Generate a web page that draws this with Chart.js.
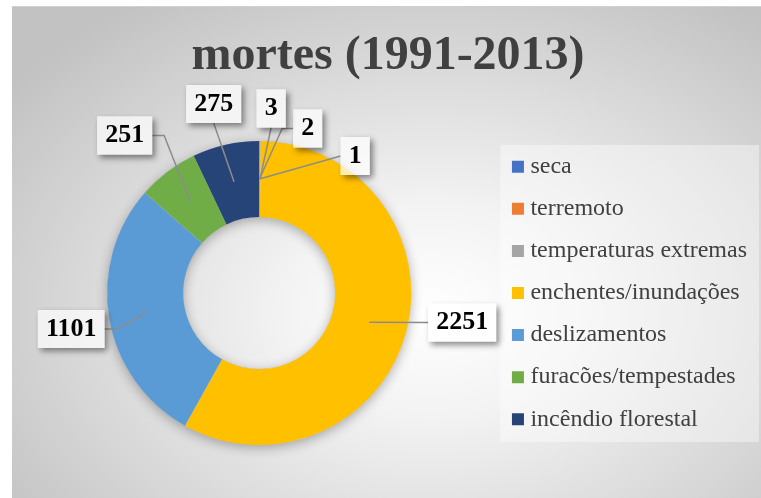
<!DOCTYPE html>
<html><head><meta charset="utf-8">
<script src="https://cdn.jsdelivr.net/npm/chart.js@4"></script>
<style>
html,body{margin:0;padding:0;background:#fff;width:761px;height:498px;overflow:hidden}
#wrap{position:absolute;left:12px;top:6px;width:749px;height:492px;
background:radial-gradient(ellipse 70% 76% at 56% 62%, #ffffff 0%, #f3f3f3 28%, #c2c2c2 100%);
box-shadow:inset 0 1px 0 #d0d0d0}
</style></head><body>
<div id="wrap"><canvas id="c"></canvas></div>
<script>
const chartTitle = 'mortes (1991-2013)';
const categories = ['seca','terremoto','temperaturas extremas','enchentes/inundações','deslizamentos','furacões/tempestades','incêndio florestal'];
const deaths = [1, 2, 3, 2251, 1101, 251, 275];
const sliceColors = ['#4472C4','#ED7D31','#A5A5A5','#FFC000','#5B9BD5','#70AD47','#264478'];

// callout placement relative to the doughnut centre (layout only)
const labelLayout = [
  {dx: 96,    dy: -137,   link: 'left'},
  {dx: 48.5,  dy: -164.5, link: 'left', elbow: 11},
  {dx: 12,    dy: -184.5, link: 'bottom'},
  {dx: 203,   dy: 29.5,   link: 'left'},
  {dx: -188,  dy: 36,     link: 'right', elbow: 13},
  {dx: -134.5,dy: -157.5, link: 'right', elbow: 12},
  {dx: -45.5, dy: -189,   link: 'bottom'}
];

const legendBg = {
  id: 'legendBg',
  beforeDraw(chart) {
    const l = chart.legend, ctx = chart.ctx;
    if (!l) return;
    ctx.save();
    ctx.fillStyle = 'rgba(255,255,255,0.4)';
    ctx.fillRect(l.left + 1, l.top + 39, l.width + 1, 297);
    ctx.restore();
  }
};

const ringShadow = {
  id: 'ringShadow',
  beforeDatasetsDraw(chart) {
    const meta = chart.getDatasetMeta(0);
    if (!meta.data.length) return;
    const p = meta.data[0].getProps(['x','y','innerRadius','outerRadius'], true);
    const ctx = chart.ctx;
    const ring = () => {
      ctx.moveTo(p.x + p.outerRadius, p.y);
      ctx.arc(p.x, p.y, p.outerRadius, 0, Math.PI * 2);
      ctx.closePath();
      ctx.moveTo(p.x + p.innerRadius, p.y);
      ctx.arc(p.x, p.y, p.innerRadius, 0, Math.PI * 2);
      ctx.closePath();
    };
    ctx.save();
    ctx.beginPath();
    ctx.rect(0, 0, chart.width, chart.height);
    ring();
    ctx.clip('evenodd');
    ctx.beginPath();
    ring();
    ctx.shadowColor = 'rgba(0,0,0,0.3)';
    ctx.shadowBlur = 12;
    ctx.shadowOffsetY = 3;
    ctx.fillStyle = '#888';
    ctx.fill('evenodd');
    ctx.restore();
  }
};

const callouts = {
  id: 'callouts',
  afterDatasetsDraw(chart) {
    const ctx = chart.ctx;
    const meta = chart.getDatasetMeta(0);
    const ds = chart.data.datasets[0];
    ctx.save();
    ctx.font = 'bold 26px "Liberation Serif"';
    const boxes = [];
    meta.data.forEach((arc, i) => {
      const p = arc.getProps(['x','y','startAngle','endAngle','innerRadius','outerRadius'], true);
      const mid = (p.startAngle + p.endAngle) / 2;
      const r = (p.innerRadius + p.outerRadius) / 2;
      const ax = p.x + Math.cos(mid) * r, ay = p.y + Math.sin(mid) * r;
      const L = labelLayout[i];
      const text = String(ds.data[i]);
      const w = ctx.measureText(text).width + 16, h = 38;
      const cx = p.x + L.dx, cy = p.y + L.dy;
      const bx = cx - w / 2, by = cy - h / 2;
      ctx.strokeStyle = '#8c8c8c';
      ctx.lineWidth = 1.5;
      ctx.beginPath();
      ctx.moveTo(ax, ay);
      if (L.link === 'left') {
        if (L.elbow) ctx.lineTo(bx - L.elbow, cy);
        ctx.lineTo(bx, cy);
      } else if (L.link === 'right') {
        if (L.elbow) ctx.lineTo(bx + w + L.elbow, cy);
        ctx.lineTo(bx + w, cy);
      } else {
        ctx.lineTo(cx, by + h);
      }
      ctx.stroke();
      boxes.push({text, cx, cy, bx, by, w, h});
    });
    boxes.forEach(b => {
      ctx.save();
      ctx.beginPath();
      ctx.rect(0, 0, chart.width, chart.height);
      ctx.rect(b.bx, b.by, b.w, b.h);
      ctx.clip('evenodd');
      ctx.shadowColor = 'rgba(0,0,0,0.45)';
      ctx.shadowBlur = 6;
      ctx.shadowOffsetX = 3;
      ctx.shadowOffsetY = 3;
      ctx.fillStyle = '#ffffff';
      ctx.fillRect(b.bx, b.by, b.w, b.h);
      ctx.restore();
      ctx.fillStyle = 'rgba(255,255,255,0.7)';
      ctx.fillRect(b.bx, b.by, b.w, b.h);
      ctx.fillStyle = '#000';
      ctx.textAlign = 'center';
      ctx.textBaseline = 'middle';
      ctx.fillText(b.text, b.cx, b.cy);
    });
    ctx.restore();
  }
};

new Chart(document.getElementById('c'), {
  type: 'doughnut',
  data: {
    labels: categories,
    datasets: [{
      data: deaths,
      backgroundColor: sliceColors,
      borderWidth: 0
    }]
  },
  options: {
    responsive: true,
    maintainAspectRatio: false,
    animation: false,
    cutout: '50%',
    radius: 152,
    layout: {padding: {left: 7, right: 4, top: 0, bottom: 18}},
    plugins: {
      title: {
        display: true,
        text: chartTitle,
        color: '#404040',
        font: {family: '"Liberation Serif"', size: 48, weight: 'bold'},
        padding: {top: 22, bottom: 20.4}
      },
      legend: {
        position: 'right',
        fullSize: false,
        labels: {
          usePointStyle: true,
          pointStyle: 'rect',
          boxWidth: 1,
          boxHeight: 12,
          padding: 18.1,
          color: '#404040',
          font: {family: '"Liberation Serif"', size: 24}
        }
      },
      tooltip: {enabled: false}
    }
  },
  plugins: [legendBg, ringShadow, callouts]
});
</script>
</body></html>
